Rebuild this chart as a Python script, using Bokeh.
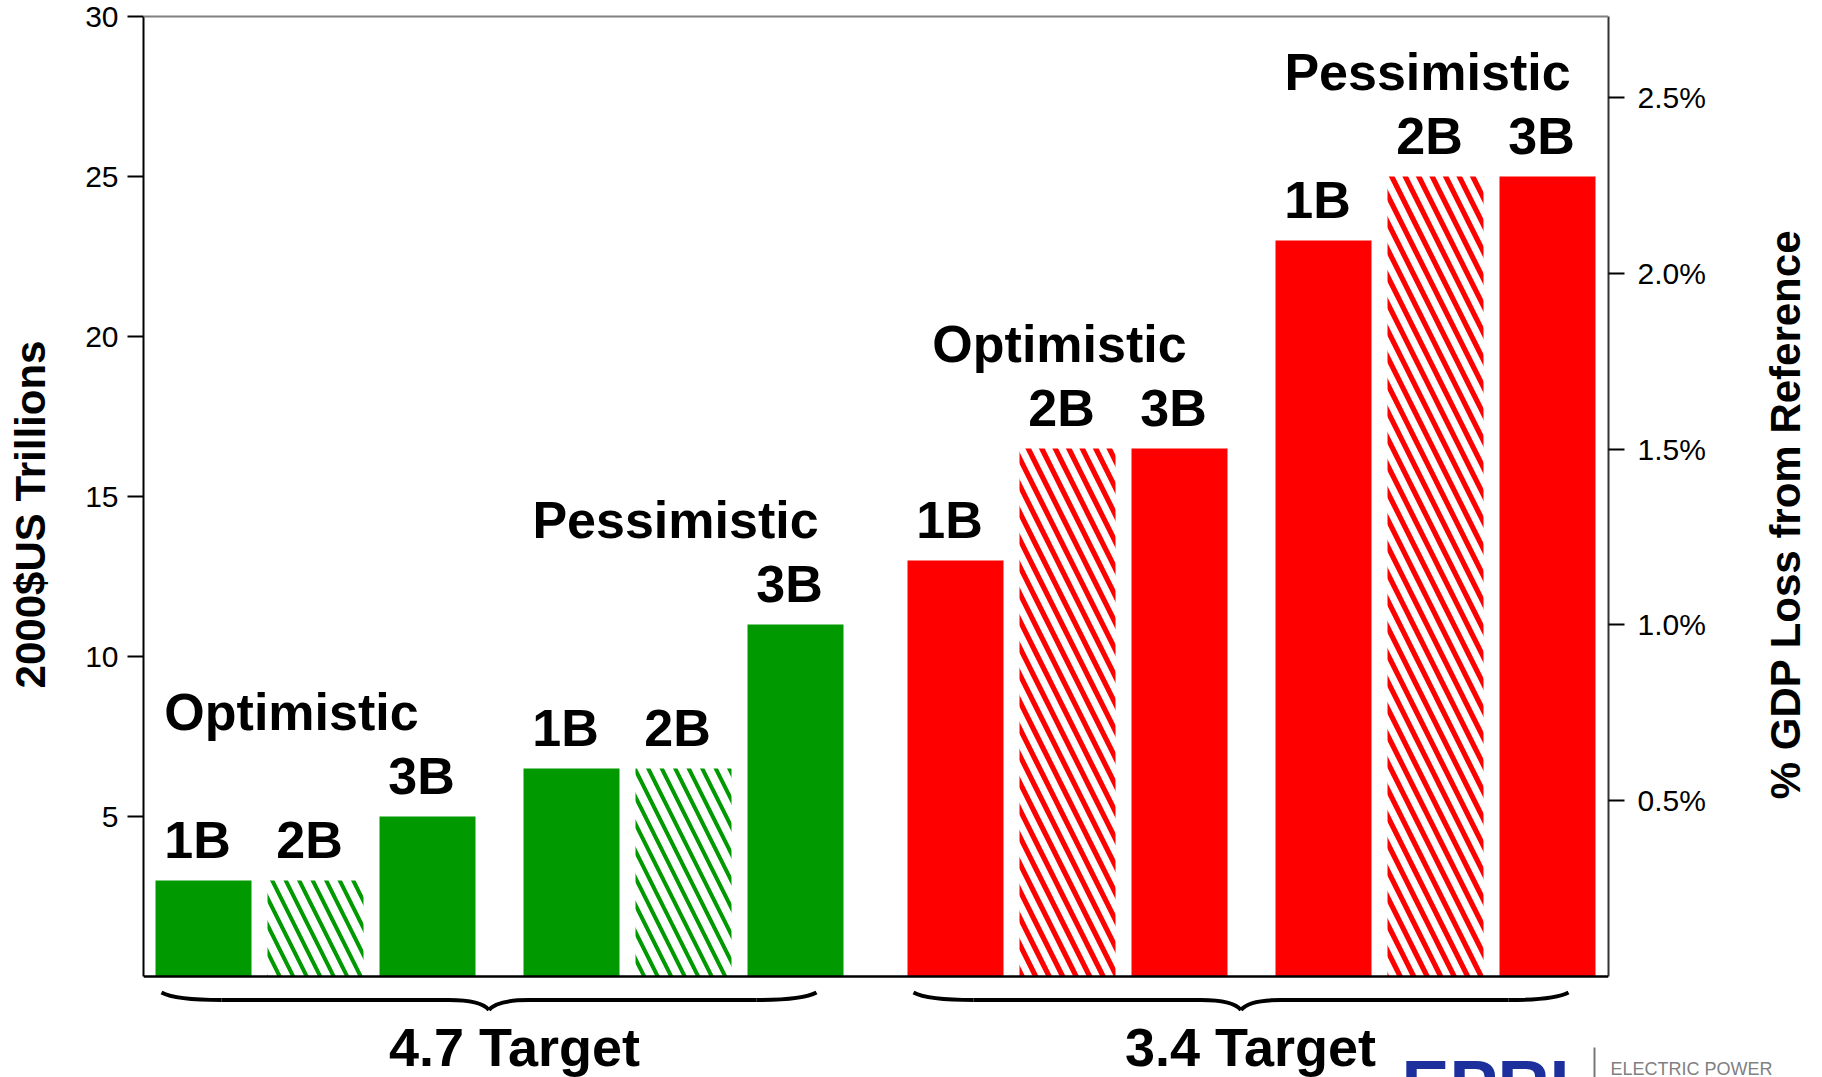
import math
from bokeh.plotting import figure
from bokeh.layouts import column, row
from bokeh.models import (Range1d, LinearAxis, FixedTicker, PrintfTickFormatter,
                          Span, ColumnDataSource)
from bokeh.core.properties import value
from bokeh.embed import file_html
from bokeh.resources import INLINE

# ---- data -------------------------------------------------------------
targets = ["4.7 Target", "3.4 Target"]
scenarios = ["Optimistic", "Pessimistic"]
builds = ["1B", "2B", "3B"]
cost_47_optimistic = [3.0, 3.0, 5.0]
cost_47_pessimistic = [6.5, 6.5, 11.0]
cost_34_optimistic = [13.0, 16.5, 16.5]
cost_34_pessimistic = [23.0, 25.0, 25.0]
left_ticks = [5, 10, 15, 20, 25, 30]
right_ticks = [0.5, 1.0, 1.5, 2.0, 2.5]
target_colors = ["#009900", "#ff0000"]
hatched_build = "2B"
left_title = "2000$US Trillions"
right_title = "% GDP Loss from Reference"

costs = [[cost_47_optimistic, cost_47_pessimistic],
         [cost_34_optimistic, cost_34_pessimistic]]

# ---- layout (pixels) --------------------------------------------------
W, H = 1822, 1077
MAIN_W, MAIN_H = 1740, 1014          # chart panel; title strip to its right, footer below
FRAME_L, FRAME_R, FRAME_T = 143, 1608, 14
PX_Y = 32.0            # pixels per trillion
Y_TOP_PX = 16          # where 30 sits
BASE_PX = Y_TOP_PX + 30 * PX_Y
PCT_PER_T = 0.0910     # % GDP per trillion on the right scale
FIRST_CENTER = 60
STEP = 112
BAR_W = 96
SCEN_GAP = 32
TARGET_GAP = 48
FONT = value("Liberation Sans")
LIFT = 0.385           # baseline correction, in em


def dy(px):
    """pixel distance below the zero line -> data units"""
    return -px / PX_Y


def lift(size):
    return -LIFT * size


y_top = 30 + (Y_TOP_PX - FRAME_T) / PX_Y
y_bot = dy(MAIN_H - BASE_PX)
foot_bot = dy(H - BASE_PX)


def bare(fig):
    fig.grid.visible = False
    fig.outline_line_color = None
    fig.background_fill_color = "white"
    fig.border_fill_color = "white"
    return fig


# bar positions
xs, tops, cols, labs, hatch = [], [], [], [], []
group_centers, group_max = [], []
target_spans = []
x = FIRST_CENTER
for ti, tgt in enumerate(targets):
    span_start = None
    for si, sc in enumerate(scenarios):
        vals = costs[ti][si]
        cx = []
        for bi, b in enumerate(builds):
            xs.append(x)
            tops.append(vals[bi])
            cols.append(target_colors[ti])
            labs.append(b)
            hatch.append(b == hatched_build)
            cx.append(x)
            if span_start is None:
                span_start = x - BAR_W / 2
            span_end = x + BAR_W / 2
            x += STEP
        group_centers.append(cx[1])
        group_max.append(max(vals))
        x += SCEN_GAP
    target_spans.append((span_start, span_end))
    x += TARGET_GAP - SCEN_GAP

solid = ColumnDataSource(dict(
    x=[v for v, h in zip(xs, hatch) if not h],
    top=[v for v, h in zip(tops, hatch) if not h],
    color=[v for v, h in zip(cols, hatch) if not h]))
striped = ColumnDataSource(dict(
    x=[v for v, h in zip(xs, hatch) if h],
    top=[v for v, h in zip(tops, hatch) if h],
    color=[v for v, h in zip(cols, hatch) if h],
    weight=[4.0 if c == target_colors[0] else 5.2
            for c, h in zip(cols, hatch) if h]))
labels = ColumnDataSource(dict(x=xs, top=tops, text=labs))

# ---- main chart -------------------------------------------------------
p = bare(figure(width=MAIN_W, height=MAIN_H, output_backend="svg",
                toolbar_location=None,
                x_range=Range1d(0, FRAME_R - FRAME_L), y_range=Range1d(y_bot, y_top),
                x_axis_location=None, y_axis_location="left",
                min_border_left=FRAME_L, min_border_right=MAIN_W - FRAME_R,
                min_border_top=FRAME_T, min_border_bottom=0))
p.extra_y_ranges = {"pct": Range1d(y_bot * PCT_PER_T, y_top * PCT_PER_T)}

ya = p.yaxis[0]
ya.bounds = (0, 30)
ya.ticker = FixedTicker(ticks=left_ticks)
ya.minor_tick_line_color = None
ya.major_tick_in = 0
ya.major_tick_out = 16
ya.major_tick_line_width = 2
ya.axis_line_width = 2
ya.major_label_text_font = "Liberation Sans"
ya.major_label_text_font_size = "30px"
ya.major_label_text_color = "black"
ya.major_label_standoff = 9
ya.axis_label = left_title
ya.axis_label_text_font = "Liberation Sans"
ya.axis_label_text_font_style = "bold"
ya.axis_label_text_font_size = "42px"
ya.axis_label_text_color = "black"
ya.axis_label_standoff = 28

ra = LinearAxis(y_range_name="pct")
ra.bounds = (0, 30 * PCT_PER_T)
ra.ticker = FixedTicker(ticks=right_ticks)
ra.formatter = PrintfTickFormatter(format="%.1f%%")
ra.minor_tick_line_color = None
ra.major_tick_in = 0
ra.major_tick_out = 16
ra.major_tick_line_width = 2
ra.axis_line_width = 2
ra.axis_line_color = "#333333"
ra.major_label_text_font = "Liberation Sans"
ra.major_label_text_font_size = "30px"
ra.major_label_text_color = "black"
ra.major_label_standoff = 13
p.add_layout(ra, "right")

p.add_layout(Span(location=30, dimension="width", line_color="#808080", line_width=2))
p.add_layout(Span(location=0, dimension="width", line_color="black", line_width=2.5))

p.vbar(x="x", top="top", bottom=0, width=BAR_W, source=solid,
       fill_color="color", line_color=None)
p.vbar(x="x", top="top", bottom=0, width=BAR_W, source=striped,
       fill_color="white", line_color=None, hatch_pattern="\\",
       hatch_color="color", hatch_scale=27, hatch_weight="weight")

p.text(x="x", y="top", text="text", source=labels, text_font=FONT,
       text_font_style="bold", text_font_size="52px", text_color="black",
       text_align="center", text_baseline="alphabetic",
       x_offset=-6, y_offset=-20 + lift(52))

scen_shift = [-24, -8, -8, -8]
p.text(x=[c + s for c, s in zip(group_centers, scen_shift)], y=group_max,
       text=scenarios * len(targets), text_font=FONT, text_font_style="bold",
       text_font_size="52px", text_color="black", text_align="center",
       text_baseline="alphabetic", y_offset=-84 + lift(52))

# curly braces under each target
BR_END, BR_LINE, BR_TIP = dy(16), dy(23.5), dy(33.5)
q = dict(x0=[], y0=[], x1=[], y1=[], cx=[], cy=[])
seg = dict(x0=[], y0=[], x1=[], y1=[])
for a, b in target_spans:
    l, r = a + 6, b - 27
    tip = (l + r) / 2
    for s, e in ((l, tip), (r, tip)):
        d = 1 if e > s else -1
        q["x0"] += [s, e - d * 40]
        q["y0"] += [BR_END, BR_LINE]
        q["x1"] += [s + d * 60, e]
        q["y1"] += [BR_LINE, BR_TIP]
        q["cx"] += [s + d * 14, e - d * 8]
        q["cy"] += [BR_LINE, BR_LINE]
        seg["x0"].append(s + d * 60)
        seg["x1"].append(e - d * 40)
        seg["y0"].append(BR_LINE)
        seg["y1"].append(BR_LINE)
p.quadratic(source=ColumnDataSource(q), x0="x0", y0="y0", x1="x1", y1="y1",
            cx="cx", cy="cy", line_color="black", line_width=4)
p.segment(source=ColumnDataSource(seg), x0="x0", y0="y0", x1="x1", y1="y1",
          line_color="black", line_width=4)

# ---- right title strip ------------------------------------------------
side_w = W - MAIN_W
s = bare(figure(width=side_w, height=MAIN_H, output_backend="svg",
                toolbar_location=None, x_range=Range1d(MAIN_W, W),
                y_range=Range1d(y_bot, y_top), x_axis_location=None,
                y_axis_location=None, min_border=0))
s.text(x=[1785], y=[dy(514 - BASE_PX)], text=[right_title], angle=math.pi / 2,
       text_font=FONT, text_font_style="bold", text_font_size="42px",
       text_color="black", text_align="center", text_baseline="middle")

# ---- footer: target names and organisation mark -----------------------
f = bare(figure(width=W, height=H - MAIN_H, output_backend="svg",
                toolbar_location=None, x_range=Range1d(-FRAME_L, W - FRAME_L),
                y_range=Range1d(foot_bot, y_bot), x_axis_location=None,
                y_axis_location=None, min_border=0))
tgt_shift = [15, -1]
f.text(x=[(a + b) / 2 + sh for (a, b), sh in zip(target_spans, tgt_shift)],
       y=[dy(91)] * len(targets), text=targets, text_font=FONT,
       text_font_style="bold", text_font_size="54px", text_color="black",
       text_align="center", text_baseline="alphabetic", y_offset=lift(54))
f.text(x=[1401 - FRAME_L], y=[dy(86)], text=["EPRI"], text_font=FONT,
       text_font_style="bold", text_font_size="72px", text_color="#1c2f9c",
       text_align="left", text_baseline="alphabetic", y_offset=51 + lift(72))
f.segment(x0=[1594 - FRAME_L], x1=[1594 - FRAME_L], y0=[dy(71)], y1=[dy(110)],
          line_color="#777777", line_width=2)
f.text(x=[1610 - FRAME_L], y=[dy(99)], text=["ELECTRIC POWER"], text_font=FONT,
       text_font_size="18px", text_color="#808080", text_align="left",
       text_baseline="alphabetic", y_offset=lift(18))

layout = column(row(p, s), f)
open("out.html", "w").write(file_html(layout, INLINE))
